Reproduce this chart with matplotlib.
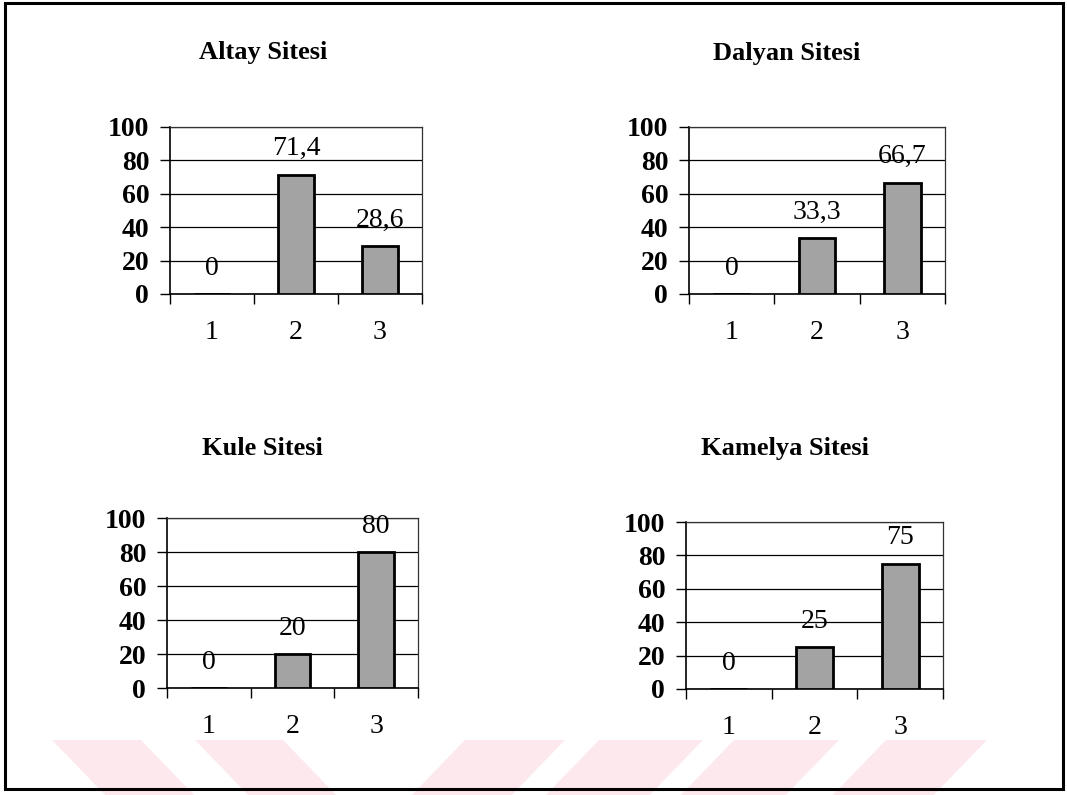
import matplotlib
matplotlib.use("Agg")
import matplotlib.pyplot as plt
from matplotlib.patches import Rectangle, Polygon

# Data: percentage answers per option for each housing estate
categories = ["1", "2", "3"]
site_names = ["Altay Sitesi", "Dalyan Sitesi", "Kule Sitesi", "Kamelya Sitesi"]
altay = [0, 71.4, 28.6]
dalyan = [0, 33.3, 66.7]
kule = [0, 20, 80]
kamelya = [0, 25, 75]
y_ticks = [0, 20, 40, 60, 80, 100]

plt.rcParams["font.family"] = ["Liberation Serif", "DejaVu Serif"]

W, H = 1067, 795
fig = plt.figure(figsize=(W / 100, H / 100), dpi=100)


def px_box(left, top, right, bottom):
    """Axes rectangle in figure fractions from pixel edges (origin top-left)."""
    return [left / W, 1 - bottom / H, (right - left) / W, (bottom - top) / H]


def fx(x):
    return x / W


def fy(y):
    return 1 - y / H


# faint diagonal bands along the bottom of the page
band_color = "#fde9ed"
top_y, bot_y = 740, 800
for x0, x1 in [(52, 141), (195, 283)]:
    shift = 58
    fig.add_artist(Polygon([(fx(x0), fy(top_y)), (fx(x1), fy(top_y)),
                            (fx(x1 + shift), fy(bot_y)), (fx(x0 + shift), fy(bot_y))],
                           closed=True, transform=fig.transFigure,
                           facecolor=band_color, edgecolor="none", zorder=0))
for x0, x1 in [(465, 565), (599, 703), (734, 839), (886, 987)]:
    shift = -58
    fig.add_artist(Polygon([(fx(x0), fy(top_y)), (fx(x1), fy(top_y)),
                            (fx(x1 + shift), fy(bot_y)), (fx(x0 + shift), fy(bot_y))],
                           closed=True, transform=fig.transFigure,
                           facecolor=band_color, edgecolor="none", zorder=0))

panels = [
    (site_names[0], altay, px_box(170, 127, 422, 294), 263, 59),
    (site_names[1], dalyan, px_box(689, 127, 945, 294), 787, 60),
    (site_names[2], kule, px_box(167, 518, 418, 688), 262, 455),
    (site_names[3], kamelya, px_box(686, 522, 943, 689), 785, 455),
]

x_pos = [1, 2, 3]

for title, values, rect, tx, ty in panels:
    ax = fig.add_axes(rect)
    ax.patch.set_alpha(0)
    ax.set_xlim(0.5, 3.5)
    ax.set_ylim(0, 100)

    ax.bar(x_pos, values, width=0.43, color="#a3a3a3", edgecolor="black",
           linewidth=2, zorder=3)

    for x, v in zip(x_pos, values):
        ax.annotate(f"{v:g}".replace(".", ","), (x, v), xytext=(0, 14),
                    textcoords="offset points", ha="center", va="baseline",
                    fontsize=20, zorder=4)

    # category separators as outward tick marks, labels centred under bars
    ax.set_xticks([0.5, 1.5, 2.5, 3.5])
    ax.set_xticklabels([])
    ax.set_xticks(x_pos, minor=True)
    ax.set_xticklabels(categories, minor=True, fontsize=20)
    ax.tick_params(axis="x", which="major", direction="out", length=7,
                   width=1, color="black")
    ax.tick_params(axis="x", which="minor", length=0, pad=19)

    ax.set_yticks(y_ticks)
    ax.set_yticklabels([str(t) for t in y_ticks], fontsize=20, fontweight="bold")
    ax.tick_params(axis="y", direction="out", length=7, width=1, pad=8)

    ax.yaxis.grid(True, color="black", linewidth=0.9)
    ax.set_axisbelow(True)

    for side in ["left", "bottom"]:
        ax.spines[side].set_linewidth(1.2)
        ax.spines[side].set_color("black")
    for side in ["top", "right"]:
        ax.spines[side].set_linewidth(0.9)
        ax.spines[side].set_color("#333333")

    fig.text(fx(tx), fy(ty), title, ha="center", va="baseline",
             fontsize=19, fontweight="bold")

# page frame
fig.add_artist(Rectangle((fx(5), fy(789)), (1063 - 5) / W, (789 - 3) / H,
                         transform=fig.transFigure, fill=False,
                         edgecolor="black", linewidth=2.2, zorder=5))

fig.savefig("out.png", dpi=100, facecolor="white")
